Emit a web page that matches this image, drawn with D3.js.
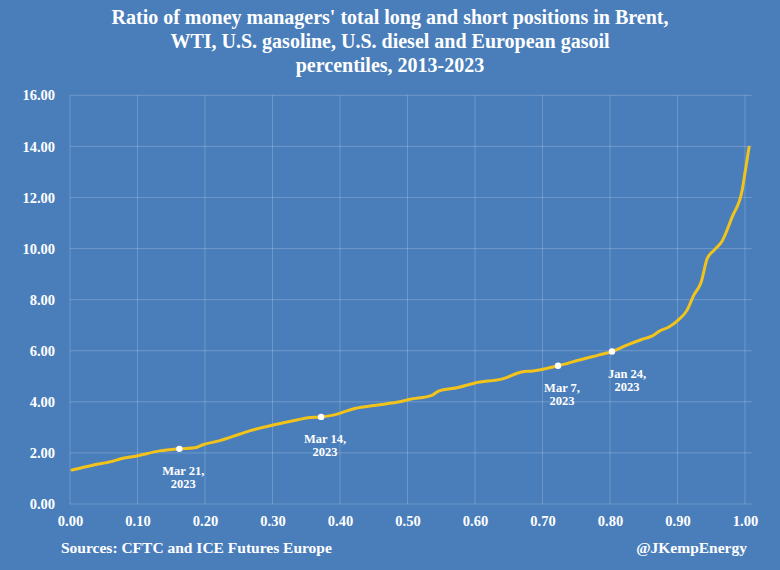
<!DOCTYPE html>
<html><head><meta charset="utf-8">
<script src="https://cdn.jsdelivr.net/npm/d3@7"></script>
<style>
html,body{margin:0;padding:0;background:#4a7ebb;}
svg{display:block;}
text{font-family:"Liberation Serif","Times New Roman",serif;font-weight:bold;fill:#fff;}
</style></head>
<body><svg id="c" width="780" height="570"></svg>
<script>
const titleLines = ["Ratio of money managers' total long and short positions in Brent,",
  "WTI, U.S. gasoline, U.S. diesel and European gasoil",
  "percentiles, 2013-2023"];
const percentiles = [0.003,0.035,0.064,0.074,0.099,0.133,0.162,0.185,0.198,0.222,0.237,0.252,0.267,0.301,0.336,0.356,0.372,0.390,0.422,0.454,0.484,0.504,0.536,0.546,0.575,0.600,0.642,0.669,0.686,0.723,0.756,0.783,0.803,0.825,0.847,0.862,0.874,0.886,0.901,0.914,0.924,0.935,0.944,0.954,0.966,0.981,0.996,0.999,1.006];
const ratios = [1.33,1.53,1.68,1.76,1.88,2.08,2.16,2.20,2.33,2.48,2.61,2.74,2.87,3.09,3.29,3.39,3.41,3.48,3.74,3.87,3.98,4.10,4.25,4.42,4.56,4.74,4.91,5.17,5.21,5.41,5.65,5.83,5.97,6.22,6.44,6.57,6.78,6.91,7.20,7.58,8.17,8.68,9.61,9.93,10.29,11.24,12.31,12.80,13.97];
const markerPct = [0.162,0.372,0.723,0.803];
const markerVal = [2.16,3.41,5.41,5.97];
const markerLabels = [["Mar 21,","2023"],["Mar 14,","2023"],["Mar 7,","2023"],["Jan 24,","2023"]];
const xTicks = [0,0.1,0.2,0.3,0.4,0.5,0.6,0.7,0.8,0.9,1.0];
const yTicks = [0,2,4,6,8,10,12,14,16];
const sourceText = "Sources: CFTC and ICE Futures Europe";
const creditText = "@JKempEnergy";

const svg = d3.select("#c");
const x = d3.scaleLinear().domain([0,1]).range([70,745]);
const y = d3.scaleLinear().domain([0,16]).range([504,95.3]);

// title
svg.append("g").selectAll("text").data(titleLines).join("text")
  .attr("x",390).attr("y",(d,i)=>24+i*24)
  .attr("text-anchor","middle").attr("font-size",20).text(d=>d);

// gridlines
const grid = svg.append("g").attr("stroke","rgba(255,255,255,0.2)").attr("stroke-width",1);
grid.selectAll("line.h").data(yTicks).join("line").attr("class","h")
  .attr("x1",x(0)).attr("x2",x(1.01)).attr("y1",d=>y(d)).attr("y2",d=>y(d));
grid.selectAll("line.v").data(xTicks).join("line").attr("class","v")
  .attr("x1",d=>x(d)).attr("x2",d=>x(d)).attr("y1",y(16)).attr("y2",y(0));

// axes
const yAxis = svg.append("g").attr("transform",`translate(${x(0)-15},0)`)
  .call(d3.axisLeft(y).tickValues(yTicks).tickFormat(d3.format(".2f")).tickSize(0));
yAxis.select(".domain").remove();
yAxis.selectAll("text").attr("font-size",14.5).attr("fill","#fff").attr("x",0)
  .style("font-family","Liberation Serif").style("font-weight","bold");

const xAxis = svg.append("g").attr("transform",`translate(0,${y(0)+9})`)
  .call(d3.axisBottom(x).tickValues(xTicks).tickFormat(d3.format(".2f")).tickSize(0));
xAxis.select(".domain").remove();
xAxis.selectAll("text").attr("font-size",14.5).attr("fill","#fff")
  .style("font-family","Liberation Serif").style("font-weight","bold");

// line
const pts = percentiles.map((p,i)=>[p,ratios[i]]);
svg.append("path").datum(pts)
  .attr("fill","none").attr("stroke","#f2c31a").attr("stroke-width",3)
  .attr("stroke-linejoin","round").attr("stroke-linecap","round")
  .attr("d",d3.line().x(d=>x(d[0])).y(d=>y(d[1])).curve(d3.curveMonotoneX));

// markers
const mk = markerPct.map((p,i)=>({p,v:markerVal[i],lab:markerLabels[i],dx:i===3?15:4}));
svg.append("g").selectAll("circle").data(mk).join("circle")
  .attr("cx",d=>x(d.p)).attr("cy",d=>y(d.v)).attr("r",3.2).attr("fill","#fff");
const lg = svg.append("g").selectAll("text").data(mk).join("text")
  .attr("text-anchor","middle").attr("font-size",12.5);
lg.selectAll("tspan").data(d=>d.lab.map((t,j)=>({t,j,d}))).join("tspan")
  .attr("x",e=>x(e.d.p)+e.d.dx).attr("y",e=>y(e.d.v)+26+e.j*13).text(e=>e.t);

// footer
svg.append("text").attr("x",61).attr("y",553).attr("font-size",15.5).text(sourceText);
svg.append("text").attr("x",747).attr("y",553).attr("text-anchor","end").attr("font-size",15.5).text(creditText);
</script></body></html>
